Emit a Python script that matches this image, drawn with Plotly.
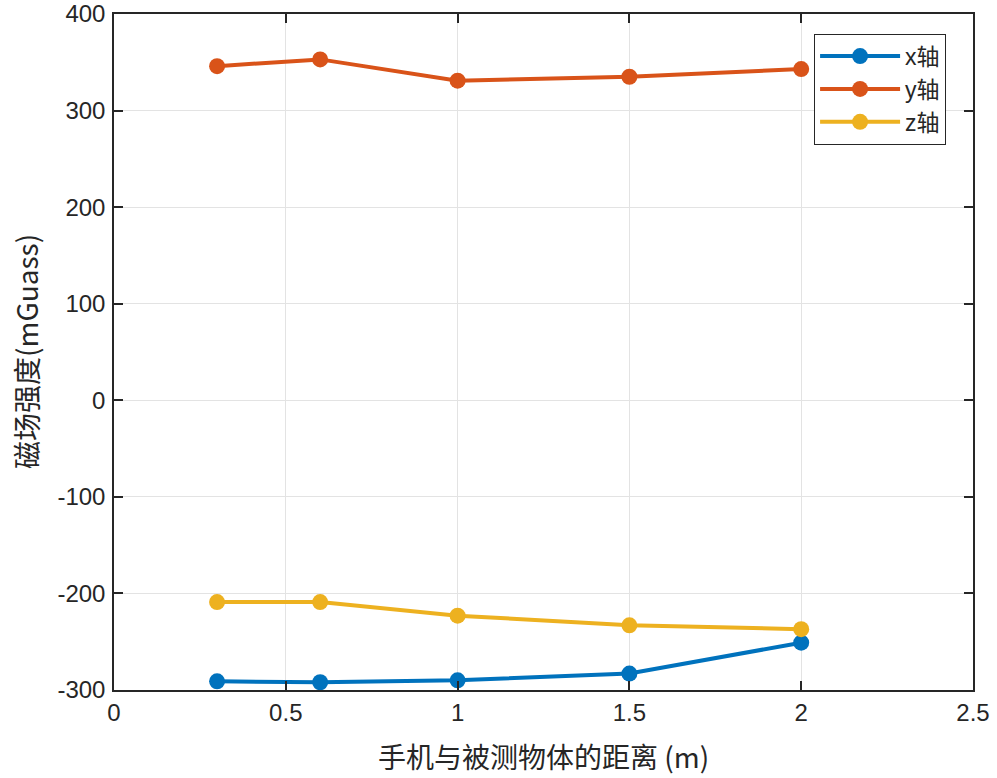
import plotly.graph_objects as go

distance = [0.3, 0.6, 1.0, 1.5, 2.0]
x_axis_vals = [-291, -292, -290, -283, -251]
y_axis_vals = [346, 353, 331, 335, 343]
z_axis_vals = [-209, -209, -223, -233, -237]
series_names = ["x轴", "y轴", "z轴"]
colors = ["#0072BD", "#D95319", "#EDB120"]
x_ticks = [0, 0.5, 1, 1.5, 2, 2.5]
x_tick_text = ["0", "0.5", "1", "1.5", "2", "2.5"]
y_ticks = [-300, -200, -100, 0, 100, 200, 300, 400]
y_tick_text = ["-300", "-200", "-100", "0", "100", "200", "300", "400"]
x_title = "手机与被测物体的距离 (m)"
y_title = "磁场强度(mGuass)"

fig = go.Figure()
for name, vals, c in zip(series_names, [x_axis_vals, y_axis_vals, z_axis_vals], colors):
    fig.add_trace(go.Scatter(
        x=distance, y=vals, name=name, mode="lines+markers",
        line=dict(color=c, width=4),
        marker=dict(color=c, size=16),
    ))

axis_common = dict(
    showline=True, linecolor="#262626", linewidth=1.5, mirror="ticks",
    ticks="inside", ticklen=9, tickwidth=1.5, tickcolor="#262626",
    showgrid=True, gridcolor="#E3E3E3", gridwidth=1, zeroline=False,
    tickfont=dict(family="Liberation Sans, Arial", size=24, color="#262626"),
    automargin=False,
)

fig.update_xaxes(range=[0, 2.5], tickvals=x_ticks, ticktext=x_tick_text, **axis_common)
fig.update_yaxes(range=[-300, 400], tickvals=y_ticks, ticktext=y_tick_text,
                 ticklabelstandoff=2, **axis_common)

title_font = dict(family="Noto Sans CJK SC", size=28, color="#262626")
fig.add_annotation(text=x_title, xref="paper", yref="paper", x=0.5, y=0,
                   yshift=-66, xanchor="center", yanchor="middle",
                   showarrow=False, font=title_font)
fig.add_annotation(text=y_title, xref="paper", yref="paper", x=0, y=0.5,
                   xshift=-88, xanchor="center", yanchor="middle", textangle=-90,
                   showarrow=False, font=title_font)

fig.update_layout(
    width=997, height=778,
    margin=dict(l=114, r=24, t=14, b=88),
    plot_bgcolor="white", paper_bgcolor="white",
    legend=dict(x=0.815, y=0.971, xanchor="left", yanchor="top",
                bordercolor="#262626", borderwidth=1, bgcolor="white",
                font=dict(family="Liberation Sans, Noto Sans CJK SC", size=23, color="#262626"),
                itemwidth=80, tracegroupgap=0),
    showlegend=True,
)

fig.write_html("out.html", config={"displayModeBar": False},
               post_script="document.body.style.margin='0';")
